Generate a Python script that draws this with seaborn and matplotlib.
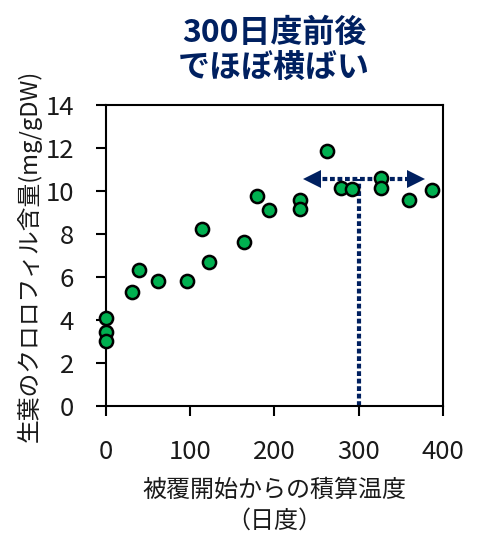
import matplotlib
matplotlib.use("Agg")
import matplotlib.pyplot as plt
import seaborn as sns
import pandas as pd

# Data
degree_days = [0, 0, 0, 31, 40, 62, 97, 114, 123, 164, 180, 194, 230, 230,
               263, 279, 292, 326, 327, 360, 387]
chlorophyll = [4.08, 3.43, 3.04, 5.30, 6.33, 5.83, 5.83, 8.23, 6.71, 7.61,
               9.75, 9.13, 9.60, 9.15, 11.85, 10.14, 10.11, 10.59, 10.14,
               9.60, 10.03]

x_ticks = [0, 100, 200, 300, 400]
y_ticks = [0, 2, 4, 6, 8, 10, 12, 14]

plateau_x = 300
plateau_y = 10.54
arrow_left = 238
arrow_right = 375

title_text = "300日度前後\nでほぼ横ばい"
xlabel_text = "被覆開始からの積算温度\n（日度）"
ylabel_text = "生葉のクロロフィル含量(mg/gDW)"

navy = "#002060"
green = "#00B050"
text_color = "#1a1a1a"

sns.set_style("ticks")
plt.rcParams["font.family"] = ["Noto Sans CJK JP", "DejaVu Sans"]

df = pd.DataFrame({"x": degree_days, "y": chlorophyll})

fig = plt.figure(figsize=(5, 5.46), dpi=100)
ax = fig.add_axes([0.211, 0.2564, 0.675, 0.5513])

# arrows (drawn under markers)
ax.plot([plateau_x, plateau_x], [0, plateau_y], color=navy, lw=3,
        linestyle=(0, (1.15, 0.65)), zorder=1, clip_on=False)
ax.plot([arrow_left + 10, arrow_right - 10], [plateau_y, plateau_y], color=navy,
        lw=3, linestyle=(0, (1.15, 0.65)), zorder=1)
ax.plot([arrow_left + 7], [plateau_y], marker="<", ms=13, color=navy,
        markeredgewidth=0, zorder=1)
ax.plot([arrow_right - 7], [plateau_y], marker=">", ms=13, color=navy,
        markeredgewidth=0, zorder=1)

sns.scatterplot(data=df, x="x", y="y", ax=ax, s=90, color=green,
                edgecolor="black", linewidth=1.8, zorder=3, legend=False,
                clip_on=False)

ax.set_xlim(0, 400)
ax.set_ylim(0, 14)
ax.set_xticks(x_ticks)
ax.set_yticks(y_ticks)
ax.set_xticklabels([str(v) for v in x_ticks])
ax.set_yticklabels([str(v) for v in y_ticks])
ax.tick_params(axis="both", direction="out", length=7, width=1.5,
               colors="black", labelsize=18.5, labelcolor=text_color)
ax.tick_params(axis="x", pad=17)
ax.tick_params(axis="y", pad=15.5)
for sp in ax.spines.values():
    sp.set_visible(True)
    sp.set_linewidth(1.5)
    sp.set_color("black")

ax.set_xlabel(xlabel_text, fontsize=17.3, color=text_color, labelpad=8.5,
              linespacing=1.25)
ax.set_ylabel(ylabel_text, fontsize=17.1, color=text_color, labelpad=3)

fig.text(0.548, 0.9066, title_text, ha="center", va="center", fontsize=23,
         fontweight="bold", color=navy, linespacing=1.19)

fig.savefig("out.png", dpi=100)
